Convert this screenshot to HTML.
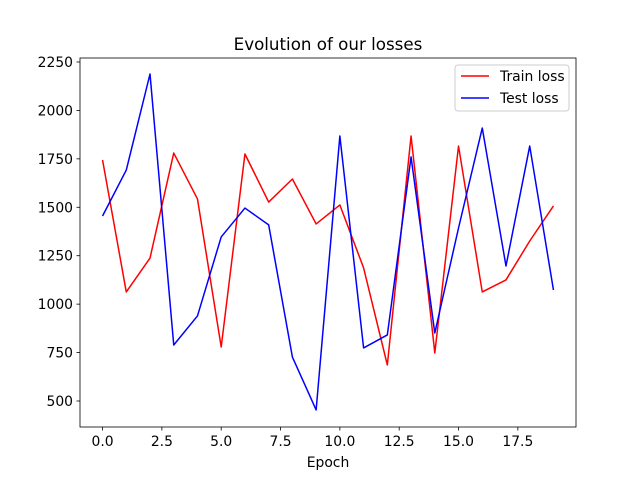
<!DOCTYPE html>
<html><head><meta charset="utf-8"><style>
body{margin:0;background:#fff}
svg{font-family:"DejaVu Sans","Liberation Sans",sans-serif}
</style></head><body>
<svg id="chart" width="640" height="480" viewBox="0 0 640 480">
<rect width="640" height="480" fill="#fff"/>
<text x="328" y="50" font-size="16.7" text-anchor="middle">Evolution of our losses</text>
<g id="axes"></g>
<rect x="80" y="58" width="496" height="369" fill="none" stroke="#000" stroke-width="0.8"/>
<text x="328" y="467" font-size="13.9" text-anchor="middle">Epoch</text>
<g>
<rect x="455" y="65" width="114" height="46" rx="3" fill="#fff" stroke="#ccc" stroke-width="1"/>
<line x1="461" y1="76" x2="489" y2="76" stroke="red" stroke-width="1.5"/>
<text x="500" y="81" font-size="13.9">Train loss</text>
<line x1="461" y1="98" x2="489" y2="98" stroke="blue" stroke-width="1.5"/>
<text x="500" y="103" font-size="13.9">Test loss</text>
</g>
</svg>
<script>
const epochs=[0,1,2,3,4,5,6,7,8,9,10,11,12,13,14,15,16,17,18,19];
const trainLoss=[1744,1063,1238,1780,1543,779,1775,1527,1646,1414,1512,1187,686,1868,748,1816,1063,1125,1326,1507];
const testLoss=[1455,1692,2188,789,939,1347,1496,1409,727,454,1868,774,841,1760,851,1393,1909,1197,1816,1073];
const xTicks=[0,2.5,5,7.5,10,12.5,15,17.5];
const xTickLabels=["0.0","2.5","5.0","7.5","10.0","12.5","15.0","17.5"];
const yTicks=[500,750,1000,1250,1500,1750,2000,2250];
const NS="http://www.w3.org/2000/svg";
function xs(v){return 80+(v+0.95)*496/20.9;}
function ys(v){return 401-(v-500)/250*48.43;}
const g=document.getElementById('axes');
function mk(t,a,p){const e=document.createElementNS(NS,t);for(const k in a)e.setAttribute(k,a[k]);(p||g).appendChild(e);return e;}
xTicks.forEach((t,i)=>{
  const l=mk('line',{x1:xs(t),x2:xs(t),y1:427,y2:430.5,stroke:'#000','stroke-width':0.8});
  
  
  const tx=mk('text',{x:xs(t),y:446,'font-size':13.9,'text-anchor':'middle'});
  tx.textContent=xTickLabels[i];
  
  
});
yTicks.forEach(t=>{
  const l=mk('line',{x1:76.5,x2:80,y1:ys(t),y2:ys(t),stroke:'#000','stroke-width':0.8});
  
  
  const tx=mk('text',{x:73,y:ys(t)+5,'font-size':13.9,'text-anchor':'end'});
  tx.textContent=String(t);
  
  
});
function line(data,color,name){
  const p=mk('polyline',{points:data.map((v,i)=>xs(epochs[i])+','+ys(v)).join(' '),fill:'none',stroke:color,'stroke-width':1.5,'stroke-linejoin':'round'});
  
  
}
line(trainLoss,'red','train-loss-line');
line(testLoss,'blue','test-loss-line');
</script>
</body></html>
